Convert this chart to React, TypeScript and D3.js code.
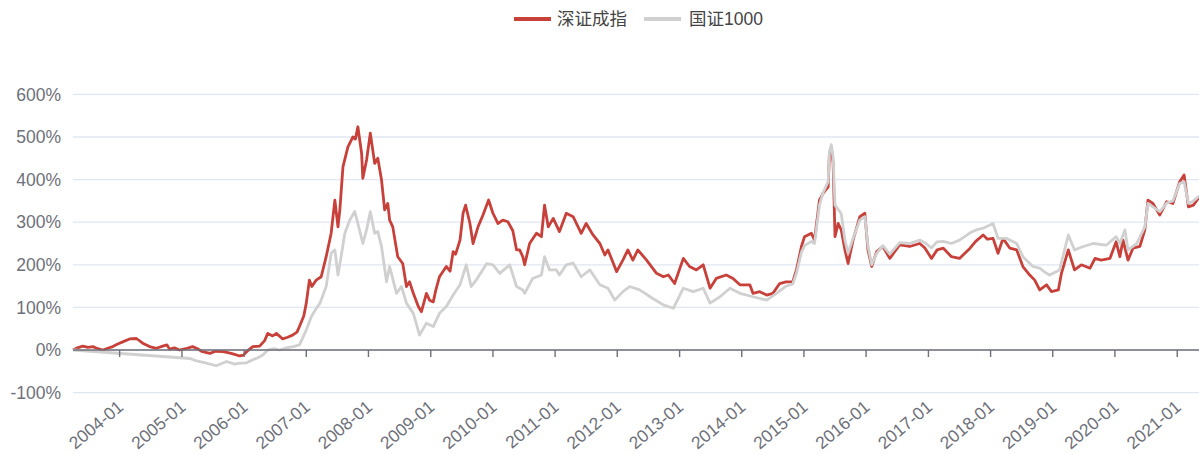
import React from 'react';
import * as d3 from 'd3';

const seriesNames = ['深证成指', '国证1000'];
const seriesColors = ['#c8403a', '#d0d0d0'];
const yTickValues = [-100, 0, 100, 200, 300, 400, 500, 600];
const xTickYears = [2004, 2005, 2006, 2007, 2008, 2009, 2010, 2011, 2012, 2013, 2014, 2015, 2016, 2017, 2018, 2019, 2020, 2021];

// 深证成指 cumulative return (%), dates as fractional years
const szYears = [
  2003.25, 2003.32, 2003.41, 2003.49, 2003.57, 2003.65, 2003.73, 2003.81, 2003.89, 2003.97,
  2004.05, 2004.16, 2004.27, 2004.37, 2004.48, 2004.59, 2004.69, 2004.76, 2004.80, 2004.88,
  2004.96, 2005.06, 2005.17, 2005.25, 2005.33, 2005.45, 2005.54, 2005.66, 2005.74, 2005.82,
  2005.93, 2005.99, 2006.04, 2006.14, 2006.25, 2006.33, 2006.38, 2006.46, 2006.52, 2006.62,
  2006.70, 2006.78, 2006.85, 2006.89, 2006.96, 2007.00, 2007.05, 2007.09, 2007.16, 2007.24,
  2007.32, 2007.40, 2007.46, 2007.51, 2007.54, 2007.59, 2007.67, 2007.75, 2007.79, 2007.83,
  2007.89, 2007.91, 2007.97, 2008.03, 2008.10, 2008.15, 2008.21, 2008.26, 2008.31, 2008.34,
  2008.39, 2008.47, 2008.55, 2008.61, 2008.66, 2008.72, 2008.80, 2008.85, 2008.93, 2008.98,
  2009.04, 2009.08, 2009.14, 2009.25, 2009.31, 2009.36, 2009.40, 2009.47, 2009.52, 2009.56,
  2009.63, 2009.68, 2009.76, 2009.84, 2009.93, 2010.00, 2010.08, 2010.16, 2010.24, 2010.32,
  2010.38, 2010.43, 2010.48, 2010.51, 2010.59, 2010.70, 2010.78, 2010.83, 2010.89, 2010.97,
  2011.07, 2011.18, 2011.29, 2011.42, 2011.50, 2011.61, 2011.72, 2011.80, 2011.85, 2011.99,
  2012.09, 2012.17, 2012.25, 2012.33, 2012.47, 2012.63, 2012.74, 2012.82, 2012.92, 2013.06,
  2013.16, 2013.27, 2013.38, 2013.49, 2013.59, 2013.75, 2013.86, 2013.97, 2014.13, 2014.18,
  2014.29, 2014.40, 2014.50, 2014.61, 2014.71, 2014.82, 2014.88, 2014.96, 2015.01, 2015.12,
  2015.17, 2015.25, 2015.31, 2015.39, 2015.41, 2015.44, 2015.47, 2015.50, 2015.55, 2015.60,
  2015.66, 2015.71, 2015.79, 2015.90, 2015.98, 2016.03, 2016.09, 2016.17, 2016.27, 2016.38,
  2016.54, 2016.70, 2016.86, 2016.94, 2017.05, 2017.14, 2017.24, 2017.37, 2017.50, 2017.67,
  2017.76, 2017.88, 2017.95, 2018.04, 2018.12, 2018.20, 2018.31, 2018.42, 2018.52, 2018.63,
  2018.71, 2018.79, 2018.90, 2018.98, 2019.09, 2019.14, 2019.25, 2019.35, 2019.46, 2019.60,
  2019.68, 2019.78, 2019.92, 2020.02, 2020.08, 2020.13, 2020.21, 2020.29, 2020.40, 2020.48,
  2020.53, 2020.61, 2020.72, 2020.83, 2020.93, 2021.04, 2021.11, 2021.18, 2021.26, 2021.34,
  2021.35,
];
const szValues = [
  0, 5, 9, 6, 8, 3, 0, 4, 8, 14,
  19, 26, 27, 16, 8, 4, 9, 12, 2, 5,
  0, 3, 8, 3, -4, -8, -3, -4, -6, -9,
  -14, -12, -4, 8, 9, 22, 39, 33, 39, 26,
  30, 35, 42, 55, 80, 110, 164, 149, 164, 172,
  219, 274, 352, 289, 329, 430, 477, 500, 495, 524,
  462, 403, 446, 509, 438, 450, 399, 329, 344, 305,
  289, 219, 203, 149, 160, 133, 102, 90, 133, 117,
  113, 140, 172, 196, 185, 231, 225, 258, 321, 340,
  297, 250, 289, 317, 352, 321, 297, 305, 301, 280,
  235, 235, 219, 200, 250, 274, 266, 340, 289, 309,
  278, 321, 313, 274, 297, 270, 250, 223, 235, 184,
  211, 235, 211, 235, 211, 180, 172, 176, 156, 215,
  196, 188, 200, 145, 168, 176, 168, 153, 153, 133,
  137, 129, 133, 156, 160, 160, 188, 243, 266, 274,
  258, 352, 368, 383, 460, 477, 438, 266, 297, 282,
  235, 203, 258, 313, 321, 235, 196, 231, 243, 215,
  247, 243, 250, 240, 215, 235, 239, 219, 215, 239,
  255, 270, 260, 262, 227, 262, 239, 235, 196, 176,
  164, 141, 153, 137, 141, 180, 235, 188, 200, 192,
  215, 211, 215, 254, 219, 258, 211, 239, 243, 282,
  352, 344, 317, 348, 344, 395, 411, 336, 340, 356,
  355,
];

// 国证1000 cumulative return (%), dates as fractional years
const gzYears = [
  2003.25, 2005.13, 2005.22, 2005.39, 2005.55, 2005.72, 2005.85, 2005.93, 2006.04, 2006.14,
  2006.22, 2006.30, 2006.38, 2006.49, 2006.57, 2006.68, 2006.79, 2006.89, 2006.95, 2007.00,
  2007.08, 2007.15, 2007.22, 2007.32, 2007.40, 2007.46, 2007.51, 2007.56, 2007.62, 2007.70,
  2007.78, 2007.83, 2007.91, 2007.97, 2008.03, 2008.10, 2008.15, 2008.21, 2008.29, 2008.34,
  2008.45, 2008.53, 2008.61, 2008.72, 2008.82, 2008.93, 2009.04, 2009.14, 2009.25, 2009.36,
  2009.47, 2009.57, 2009.65, 2009.73, 2009.90, 2010.00, 2010.11, 2010.27, 2010.38, 2010.48,
  2010.51, 2010.64, 2010.78, 2010.83, 2010.91, 2011.02, 2011.07, 2011.18, 2011.29, 2011.42,
  2011.56, 2011.72, 2011.85, 2011.96, 2012.09, 2012.20, 2012.36, 2012.57, 2012.74, 2012.90,
  2013.06, 2013.22, 2013.38, 2013.49, 2013.65, 2013.81, 2013.97, 2014.18, 2014.40, 2014.56,
  2014.71, 2014.82, 2014.88, 2014.96, 2015.01, 2015.12, 2015.17, 2015.25, 2015.31, 2015.39,
  2015.41, 2015.44, 2015.47, 2015.50, 2015.55, 2015.60, 2015.66, 2015.71, 2015.79, 2015.90,
  2015.98, 2016.03, 2016.09, 2016.17, 2016.27, 2016.38, 2016.54, 2016.70, 2016.86, 2016.94,
  2017.05, 2017.14, 2017.24, 2017.37, 2017.50, 2017.67, 2017.77, 2017.88, 2018.04, 2018.12,
  2018.26, 2018.42, 2018.52, 2018.68, 2018.79, 2018.90, 2018.95, 2019.11, 2019.25, 2019.35,
  2019.49, 2019.65, 2019.86, 2020.02, 2020.08, 2020.16, 2020.21, 2020.35, 2020.48, 2020.53,
  2020.61, 2020.72, 2020.83, 2020.93, 2021.04, 2021.11, 2021.18, 2021.26, 2021.34, 2021.35,
];
const gzValues = [
  0, -20, -25, -31, -37, -27, -33, -31, -30, -23,
  -18, -12, 0, 3, 0, 5, 8, 12, 31, 47,
  78, 95, 110, 149, 227, 235, 176, 219, 274, 305,
  325, 297, 250, 282, 325, 274, 278, 243, 160, 196,
  133, 149, 110, 86, 35, 63, 55, 86, 102, 129,
  153, 200, 149, 164, 203, 200, 180, 200, 149, 141,
  133, 168, 176, 219, 188, 188, 176, 200, 204, 172,
  188, 153, 145, 117, 137, 149, 141, 121, 106, 98,
  145, 137, 145, 110, 125, 145, 133, 125, 117, 133,
  150, 155, 180, 230, 245, 255, 250, 340, 370, 395,
  465, 482, 450, 340, 330, 320, 258, 227, 262, 305,
  313, 245, 200, 227, 245, 225, 252, 250, 258, 252,
  240, 254, 255, 250, 258, 275, 282, 286, 297, 262,
  262, 250, 219, 196, 192, 180, 176, 188, 270, 235,
  243, 250, 246, 266, 250, 282, 235, 250, 289, 344,
  336, 325, 345, 350, 391, 395, 344, 350, 360, 358,
];

const W = 1199;
const H = 454;
const plotLeft = 73;
const plotRight = 1199;

function yearToDate(y: number): Date {
  const yr = Math.floor(y);
  const s = Date.UTC(yr, 0, 1);
  const e = Date.UTC(yr + 1, 0, 1);
  return new Date(s + (y - yr) * (e - s));
}

const FONT = '"Liberation Sans", Arial, "Noto Sans CJK SC", sans-serif';

export default function App() {
  const x = d3
    .scaleUtc()
    .domain([yearToDate(2003.25), yearToDate(2021.35)])
    .range([plotLeft, plotRight]);
  const y = d3.scaleLinear().domain([-100, 600]).range([392.6, 94.4]);

  const line = d3
    .line<[number, number]>()
    .x((d) => x(yearToDate(d[0])))
    .y((d) => y(d[1]));

  const szData: [number, number][] = szYears.map((t, i) => [t, szValues[i]]);
  const gzData: [number, number][] = gzYears.map((t, i) => [t, gzValues[i]]);

  const axisY = y(0);
  const labelColor = '#6e7079';

  const legendItems = [
    { name: seriesNames[0], color: seriesColors[0], lx: 514, tx: 557 },
    { name: seriesNames[1], color: seriesColors[1], lx: 644, tx: 689 },
  ];

  return (
    <svg
      width={W}
      height={H}
      style={{ position: 'absolute', left: 0, top: 0, background: '#fff' }}
      fontFamily={FONT}
    >
      {/* legend */}
      {legendItems.map((it) => (
        <g key={it.name}>
          <line x1={it.lx} x2={it.lx + 37} y1={19} y2={19} stroke={it.color} strokeWidth={4} />
          <text x={it.tx} y={19} dy="0.35em" fontSize={17.5} fill="#444">
            {it.name}
          </text>
        </g>
      ))}

      {/* grid lines */}
      {yTickValues.map((v) => (
        <line
          key={'g' + v}
          x1={plotLeft}
          x2={plotRight}
          y1={y(v)}
          y2={y(v)}
          stroke="#e0e6f1"
          strokeWidth={1.3}
        />
      ))}

      {/* y labels */}
      {yTickValues.map((v) => (
        <text
          key={'yl' + v}
          x={61}
          y={y(v)}
          dy="0.35em"
          textAnchor="end"
          fontSize={17.5}
          fill={labelColor}
        >
          {v + '%'}
        </text>
      ))}

      {/* series */}
      <path d={line(szData) || ''} fill="none" stroke={seriesColors[0]} strokeWidth={2.8} strokeLinejoin="round" />
      <path d={line(gzData) || ''} fill="none" stroke={seriesColors[1]} strokeWidth={2.8} strokeLinejoin="round" />

      {/* x axis line at zero */}
      <line x1={plotLeft} x2={plotRight} y1={axisY} y2={axisY} stroke={labelColor} strokeWidth={1.4} />
      {xTickYears.map((yr) => {
        const tx = x(yearToDate(yr));
        return (
          <g key={'xt' + yr}>
            <line x1={tx} x2={tx} y1={axisY} y2={axisY + 7} stroke={labelColor} strokeWidth={1.4} />
            <text
              transform={`translate(${tx + 1},${404}) rotate(-40)`}
              textAnchor="end"
              dy="0.35em"
              fontSize={17.5}
              fill={labelColor}
            >
              {d3.utcFormat('%Y-%m')(yearToDate(yr))}
            </text>
          </g>
        );
      })}
    </svg>
  );
}
